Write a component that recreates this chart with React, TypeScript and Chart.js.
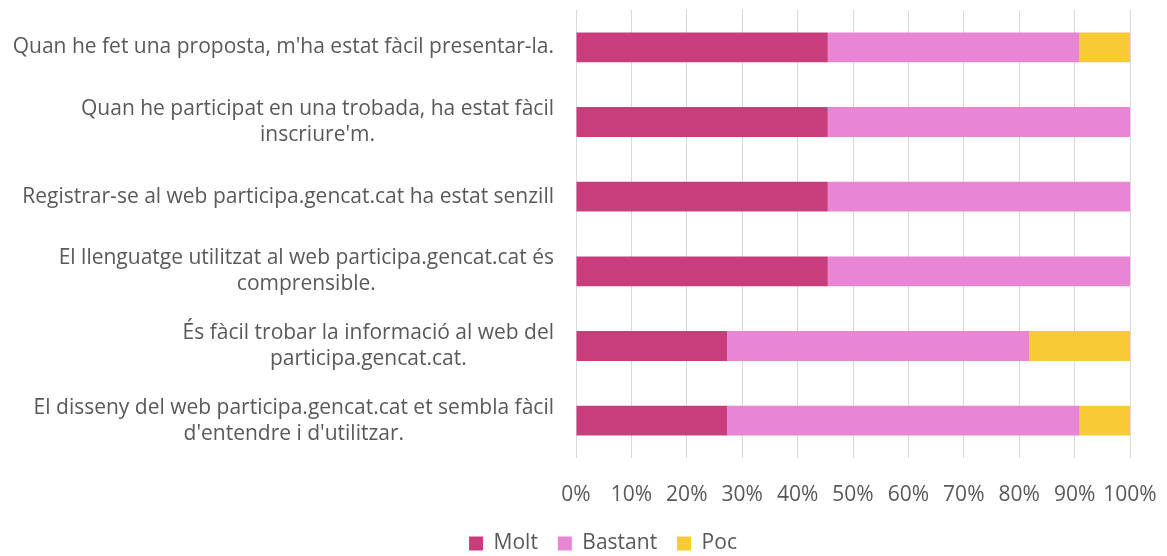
import React, { useEffect, useRef } from "react";
import { Chart, registerables } from "chart.js";

Chart.register(...registerables);

const categories: (string | string[])[] = [
  "Quan he fet una proposta, m'ha estat fàcil presentar-la.",
  ["Quan he participat en una trobada, ha estat fàcil", "inscriure'm."],
  "Registrar-se al web participa.gencat.cat ha estat senzill",
  ["El llenguatge utilitzat al web participa.gencat.cat és", "comprensible."],
  ["És fàcil trobar la informació al web del", "participa.gencat.cat."],
  ["El disseny del web participa.gencat.cat et sembla fàcil", "d'entendre i d'utilitzar."],
];

const molt = [45.45, 45.45, 45.45, 45.45, 27.27, 27.27];
const bastant = [45.45, 54.55, 54.55, 54.55, 54.55, 63.64];
const poc = [9.09, 0, 0, 0, 18.18, 9.09];

const xTicks = [0, 10, 20, 30, 40, 50, 60, 70, 80, 90, 100];

const FONT = "'Open Sans', sans-serif";
const FS = 21;
const TEXT = "#595959";
const LH = 26;

const yLabelPlugin = {
  id: "yLabelPlugin",
  afterDraw(chart: any) {
    const ctx = chart.ctx;
    const y = chart.scales.y;
    const right = chart.chartArea.left - 22;
    ctx.save();
    ctx.font = `${FS}px ${FONT}`;
    ctx.fillStyle = TEXT;
    ctx.textAlign = "center";
    ctx.textBaseline = "middle";
    categories.forEach((lab, i) => {
      const lines = Array.isArray(lab) ? lab : [lab];
      const w = Math.max(...lines.map((l) => ctx.measureText(l).width));
      const cx = right - w / 2;
      const cy = y.getPixelForValue(i);
      lines.forEach((l, j) => {
        ctx.fillText(l, cx, cy + (j - (lines.length - 1) / 2) * LH);
      });
    });
    ctx.restore();
  },
};

export default function App() {
  const ref = useRef<HTMLCanvasElement | null>(null);
  useEffect(() => {
    if (!ref.current) return;
    const chart = new Chart(ref.current, {
      type: "bar",
      data: {
        labels: categories as any,
        datasets: [
          { label: "Molt", data: molt, backgroundColor: "#C83E7D" },
          { label: "Bastant", data: bastant, backgroundColor: "#E986D3" },
          { label: "Poc", data: poc, backgroundColor: "#F8CA34" },
        ],
      },
      options: {
        indexAxis: "y",
        animation: false,
        responsive: true,
        maintainAspectRatio: false,
        layout: { padding: { left: 76, right: 37, top: 10, bottom: 0 } },
        datasets: { bar: { barPercentage: 0.4, categoryPercentage: 1 } } as any,
        scales: {
          x: {
            stacked: true,
            min: 0,
            max: 100,
            afterBuildTicks: (scale: any) => {
              scale.ticks = xTicks.map((v) => ({ value: v }));
            },
            afterFit: (scale: any) => {
              scale.height = 55;
              scale.paddingLeft = 0;
              scale.paddingRight = 0;
            },
            grid: { color: "#D9D9D9", lineWidth: 1, drawTicks: false },
            border: { display: false },
            ticks: {
              padding: 24,
              color: TEXT,
              maxRotation: 0,
              minRotation: 0,
              autoSkip: false,
              font: { family: FONT, size: FS },
              callback: (v: any) => `${v}%`,
            },
          },
          y: {
            stacked: true,
            display: true,
            grid: { display: false },
            border: { display: false },
            ticks: { display: false },
            afterFit: (scale: any) => {
              scale.width = 500;
            },
          },
        },
        plugins: {
          legend: {
            position: "bottom",
            labels: {
              boxWidth: 14,
              boxHeight: 14,
              color: TEXT,
              font: { family: FONT, size: FS },
              padding: 20,
            },
          },
          tooltip: { enabled: false },
        },
      },
      plugins: [yLabelPlugin],
    });
    return () => chart.destroy();
  }, []);
  return (
    <div style={{ position: "absolute", left: 0, top: 0, width: 1167, height: 556, overflow: "hidden", background: "#fff" }}>
      <div style={{ position: "relative", width: 1167, height: 564 }}>
        <canvas ref={ref} />
      </div>
    </div>
  );
}
